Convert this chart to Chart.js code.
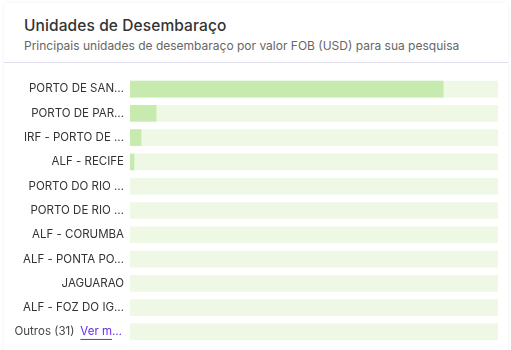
<!DOCTYPE html>
<html><head><meta charset="utf-8">
<script src="https://cdn.jsdelivr.net/npm/chart.js@4.4.1/dist/chart.umd.min.js"></script>
<style>
html,body{margin:0;padding:0;background:#fff;width:511px;height:350px;overflow:hidden;font-family:Inter,"Noto Sans",sans-serif;}
.card{position:absolute;left:4px;top:3px;width:504px;height:360px;background:#fff;border-radius:4px;box-shadow:0 0 4px rgba(0,0,0,0.06);}
.title{position:absolute;left:20px;top:13px;font-size:15.5px;font-weight:500;color:#333;letter-spacing:0.1px;}
.sub{position:absolute;left:20px;top:35px;font-size:12px;color:#666;}
.div{position:absolute;left:0;top:59px;width:504px;height:1px;background:#e2e0ec;}
.wrap{position:absolute;left:0;top:61px;width:504px;height:293px;}
</style></head><body>
<div class="card">
<div class="title">Unidades de Desembaraço</div>
<div class="sub">Principais unidades de desembaraço por valor FOB (USD) para sua pesquisa</div>
<div class="div"></div>
<div class="wrap"><canvas id="c"></canvas></div>
</div>
<script>
const categories = ["PORTO DE SAN…","PORTO DE PAR…","IRF - PORTO DE …","ALF - RECIFE","PORTO DO RIO …","PORTO DE RIO …","ALF - CORUMBA","ALF - PONTA PO…","JAGUARAO","ALF - FOZ DO IG…","Outros (31)"];
const values = [85.1, 7.1, 3.0, 1.1, 0, 0, 0, 0, 0, 0, 0];
const trackValues = [100,100,100,100,100,100,100,100,100,100,100];
const linkText = "Ver m…";

const lastLabelPlugin = {
  id:'lastLabel',
  afterDraw(chart){
    const y = chart.scales.y;
    const i = categories.length-1;
    const py = y.getPixelForTick(i);
    const ctx = chart.ctx;
    ctx.save();
    ctx.font = '11.5px Inter, "Noto Sans", sans-serif';
    ctx.textBaseline='middle';
    ctx.textAlign='right';
    const right = y.right - 8;
    ctx.fillStyle='#6a2ee8';
    ctx.fillText(linkText, right, py);
    const lw = ctx.measureText(linkText).width;
    ctx.fillRect(right-lw, py+7, lw-10, 1);
    ctx.fillStyle='#444';
    ctx.fillText(categories[i], right-lw-6, py);
    ctx.restore();
  }
};

new Chart(document.getElementById('c'), {
  type:'bar',
  data:{
    labels:categories,
    datasets:[
      {data:values, backgroundColor:(c)=>c.raw>0?'#c7ebae':'rgba(0,0,0,0)', barThickness:16, grouped:false, order:0},
      {data:trackValues, backgroundColor:'#eef8e5', barThickness:16, grouped:false, order:1}
    ]
  },
  options:{
    indexAxis:'y',
    responsive:true, maintainAspectRatio:false, animation:false,
    layout:{padding:{top:8.75,bottom:5.75,right:10,left:0}},
    plugins:{legend:{display:false},tooltip:{enabled:false}},
    scales:{
      x:{display:false,min:0,max:100},
      y:{
        grid:{display:false,drawTicks:false}, border:{display:false},
        afterFit(s){s.width=126;},
        ticks:{padding:6,color:'#333',font:{family:'Inter, "Noto Sans", sans-serif',size:11.5},
          callback(v,i){return i===categories.length-1?'':categories[i];}}
      }
    }
  },
  plugins:[lastLabelPlugin]
});
</script>
</body></html>
